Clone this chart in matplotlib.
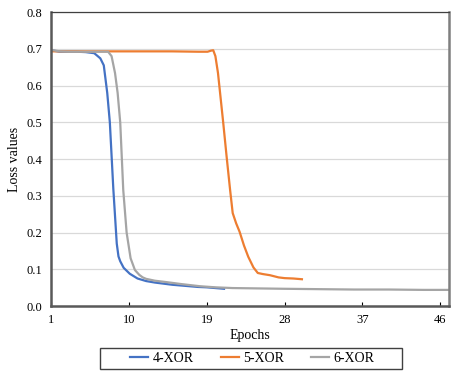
import matplotlib.pyplot as plt
from matplotlib.patches import Rectangle

# Valores (épocas x perda)
ep_4xor = [1, 2, 3, 4, 5, 6, 6.7, 7.1, 7.5, 7.8, 8.2, 8.6, 8.8, 9.0, 9.4, 10.1,
           11, 12, 13, 14, 15, 16, 17, 18, 19, 20, 21]
loss_4xor = [0.696, 0.692, 0.692, 0.692, 0.691, 0.688, 0.674, 0.655, 0.58, 0.50,
             0.32, 0.17, 0.135, 0.122, 0.104, 0.088, 0.075, 0.068, 0.064, 0.061,
             0.058, 0.056, 0.054, 0.052, 0.051, 0.049, 0.047]

ep_5xor = [1, 3, 6, 9, 12, 15, 18, 19.1, 19.5, 19.75, 20.0, 20.3, 20.9, 21.3,
           21.7, 22.0, 22.4, 22.8, 23.3, 23.8, 24.4, 24.9, 25.5, 26.3, 27.3, 28,
           29, 30]
loss_5xor = [0.693, 0.693, 0.693, 0.693, 0.693, 0.693, 0.692, 0.692, 0.695,
             0.696, 0.68, 0.634, 0.5, 0.406, 0.316, 0.253, 0.225, 0.202, 0.165,
             0.134, 0.105, 0.09, 0.087, 0.084, 0.078, 0.076, 0.075, 0.073]

ep_6xor = [1, 2, 3, 4, 5, 6, 7, 7.6, 8.0, 8.4, 8.7, 9.0, 9.35, 9.74, 10.2, 10.7,
           11.2, 11.6, 12, 13, 14.4, 16, 18.2, 20, 22, 25, 28, 32, 36, 40, 44, 47]
loss_6xor = [0.697, 0.693, 0.692, 0.692, 0.692, 0.692, 0.692, 0.692, 0.68,
             0.634, 0.58, 0.5, 0.316, 0.2, 0.13, 0.098, 0.085, 0.078, 0.074,
             0.069, 0.065, 0.06, 0.054, 0.051, 0.049, 0.048, 0.047, 0.046,
             0.045, 0.045, 0.044, 0.044]

x_ticks = [1, 10, 19, 28, 37, 46]
y_ticks = [0.0, 0.1, 0.2, 0.3, 0.4, 0.5, 0.6, 0.7, 0.8]

plt.rcParams['font.family'] = ['Liberation Serif', 'DejaVu Serif']

fig = plt.figure(figsize=(4.57, 3.76), dpi=100)
ax = fig.add_axes([0.1116, 0.186, 0.8709, 0.782])

ax.plot(ep_4xor, loss_4xor, color='#4472C4', lw=1.6, label='4-XOR')
ax.plot(ep_5xor, loss_5xor, color='#ED7D31', lw=1.6, label='5-XOR')
ax.plot(ep_6xor, loss_6xor, color='#A5A5A5', lw=1.6, label='6-XOR')

ax.set_xlim(1, 47)
ax.set_ylim(0, 0.8)
ax.set_xticks(x_ticks)
ax.set_yticks(y_ticks)
ax.set_yticklabels([f'{v:.1f}' for v in y_ticks])
ax.grid(axis='y', color='#D9D9D9', lw=0.9)
ax.set_axisbelow(True)

ax.tick_params(axis='y', length=0, labelsize=9, pad=6)
ax.tick_params(axis='x', direction='in', length=3, width=0.8, labelsize=9, pad=6)

for lado in ['left', 'bottom']:
    ax.spines[lado].set_color('#595959')
    ax.spines[lado].set_linewidth(1.8)
ax.spines['right'].set_color('#7F7F7F')
ax.spines['right'].set_linewidth(1.8)
ax.spines['top'].set_color('#404040')
ax.spines['top'].set_linewidth(0.9)

ax.set_xlabel('Epochs', fontsize=10, labelpad=2)
ax.set_ylabel('Loss values', fontsize=10, labelpad=4)

# legenda sem moldura + caixa desenhada à parte (a caixa original é mais larga)
leg = fig.legend(loc='center', bbox_to_anchor=(0.5525, 0.0465), ncol=3,
                 fontsize=10, frameon=False, handlelength=1.3,
                 handletextpad=0.35, columnspacing=1.9)
caixa = Rectangle((0.2188, 0.0186), 0.6608, 0.0559, transform=fig.transFigure,
                  fill=False, edgecolor='#404040', lw=1.0)
fig.patches.append(caixa)

plt.savefig('out.png', dpi=100)
